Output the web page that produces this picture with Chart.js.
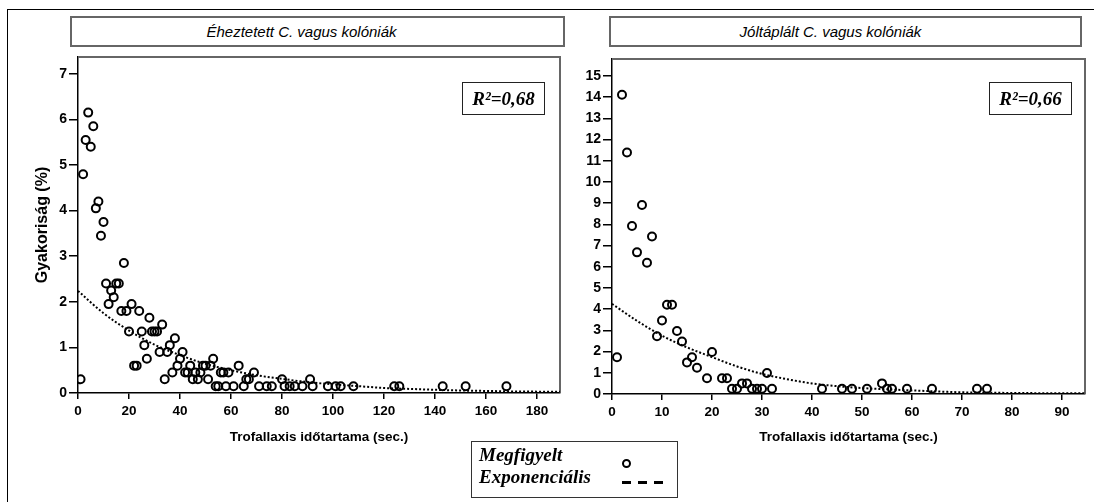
<!DOCTYPE html>
<html>
<head>
<meta charset="utf-8">
<script src="https://cdn.jsdelivr.net/npm/chart.js@4"></script>
<style>
  body { margin: 0; background: #fff; width: 1094px; height: 502px; overflow: hidden; position: relative; font-family: Arial, "Liberation Sans", sans-serif; }
  .frame { position: absolute; left: 7px; top: 9px; width: 1200px; height: 600px; border-left: 1px solid #000; border-top: 1px solid #000; }
  .panel { position: absolute; top: 0; height: 502px; }
  .titlebox { position: absolute; top: 16px; height: 27px; border: 2px solid #666; font: italic 15px Arial, "Liberation Sans", sans-serif; line-height: 27px; text-align: center; color: #000; }
  .r2 { position: absolute; top: 82px; width: 81px; height: 31px; border: 1px solid #222; font: bold italic 19px "Liberation Serif", "Times New Roman", serif; line-height: 31px; text-align: center; color: #000; }
  .legend { position: absolute; left: 471px; top: 441px; width: 205px; height: 55px; border: 1px solid #333; font: bold italic 19px "Liberation Serif", "Times New Roman", serif; color: #000; }
  .legend .row { position: absolute; left: 7px; height: 22px; line-height: 22px; }
  .dot { position: absolute; left: 150px; top: 17px; width: 5px; height: 5px; border: 2px solid #000; border-radius: 50%; }
  .dash { position: absolute; top: 39px; width: 9px; height: 3px; background: #000; }
</style>
</head>
<body>
<div class="frame"></div>

<div class="titlebox" style="left:70px; width:491px;"><span style="position:relative; left:-16px;">Éheztetett C. vagus kolóniák</span></div>
<div class="titlebox" style="left:609px; width:469px;"><span style="position:relative; left:-15px;">Jóltáplált C. vagus kolóniák</span></div>

<div class="panel" style="left:0; width:566px;"><canvas id="leftCanvas" width="566" height="502"></canvas></div>
<div class="panel" style="left:566px; width:528px;"><canvas id="rightCanvas" width="528" height="502"></canvas></div>

<div class="r2" style="left:462px;">R²=0,68</div>
<div class="r2" style="left:989px;">R²=0,66</div>

<div class="legend">
  <div class="row" style="top:2px;">Megfigyelt</div>
  <div class="row" style="top:24px;">Exponenciális</div>
  <div class="dot"></div>
  <div class="dash" style="left:150px;"></div>
  <div class="dash" style="left:166px;"></div>
  <div class="dash" style="left:182px;"></div>
</div>

<script>
// Éheztetett kolóniák - megfigyelt pontok
const leftX = [1, 2, 3, 4, 5, 6, 7, 8, 9, 10, 11, 12, 13, 14, 15, 16, 17, 18, 19, 20,
  21, 22, 23, 24, 25, 26, 27, 28, 29, 30, 31, 32, 33, 34, 35, 36, 37, 38, 39, 40,
  41, 42, 43, 44, 45, 46, 47, 48, 49, 50, 51, 52, 53, 54, 55, 56, 57, 58, 59, 61,
  63, 65, 66, 67, 69, 71, 74, 76, 80, 81, 83, 85, 88, 91, 92, 98, 101, 103, 108, 124,
  126, 143, 152, 168];
const leftY = [0.30, 4.80, 5.55, 6.15, 5.40, 5.85, 4.05, 4.20, 3.45, 3.75, 2.40, 1.95, 2.25, 2.10, 2.40, 2.40, 1.80, 2.85, 1.80, 1.35,
  1.95, 0.60, 0.60, 1.80, 1.35, 1.05, 0.75, 1.65, 1.35, 1.35, 1.35, 0.90, 1.50, 0.30, 0.90, 1.05, 0.45, 1.20, 0.60, 0.75,
  0.90, 0.45, 0.45, 0.60, 0.30, 0.45, 0.30, 0.45, 0.60, 0.60, 0.30, 0.60, 0.75, 0.15, 0.15, 0.45, 0.45, 0.15, 0.45, 0.15,
  0.60, 0.15, 0.30, 0.30, 0.45, 0.15, 0.15, 0.15, 0.30, 0.15, 0.15, 0.15, 0.15, 0.30, 0.15, 0.15, 0.15, 0.15, 0.15, 0.15,
  0.15, 0.15, 0.15, 0.15];
// Exponenciális görbe (leolvasott értékek)
const leftFitX = [0, 10, 20, 30, 40, 50, 60, 70, 80, 90, 100, 110, 120, 130, 140, 150, 160, 170, 180, 189];
const leftFitY = [2.24, 1.75, 1.37, 1.06, 0.83, 0.64, 0.50, 0.39, 0.31, 0.24, 0.19, 0.15, 0.11, 0.09, 0.07, 0.055, 0.045, 0.035, 0.03, 0.025];
const leftXTicks = [0, 20, 40, 60, 80, 100, 120, 140, 160, 180];
const leftYTicks = [0, 1, 2, 3, 4, 5, 6, 7];

// Jóltáplált kolóniák - megfigyelt pontok
const rightX = [1, 2, 3, 4, 5, 6, 7, 8, 9, 10, 11, 12, 13, 14, 15, 16, 17, 19, 20, 22,
  23, 24, 25, 26, 27, 28, 29, 30, 31, 32, 42, 46, 48, 51, 54, 55, 56, 59, 64, 73, 75];
const rightY = [1.73, 14.11, 11.39, 7.92, 6.68, 8.91, 6.19, 7.43, 2.72, 3.47, 4.21, 4.21, 2.97, 2.48, 1.49, 1.73, 1.24, 0.74, 1.98, 0.74,
  0.74, 0.25, 0.25, 0.50, 0.50, 0.25, 0.25, 0.25, 0.99, 0.25, 0.25, 0.25, 0.25, 0.25, 0.50, 0.25, 0.25, 0.25, 0.25, 0.25, 0.25];
const rightFitX = [0, 5, 10, 15, 20, 25, 30, 35, 40, 45, 50, 55, 60, 65, 70, 75, 80, 85, 90, 95];
const rightFitY = [4.25, 3.45, 2.75, 2.20, 1.74, 1.30, 0.95, 0.70, 0.50, 0.37, 0.28, 0.22, 0.17, 0.12, 0.08, 0.06, 0.05, 0.04, 0.035, 0.03];
const rightXTicks = [0, 10, 20, 30, 40, 50, 60, 70, 80, 90];
const rightYTicks = [0, 1, 2, 3, 4, 5, 6, 7, 8, 9, 10, 11, 12, 13, 14, 15];

const fontFamily = 'Arial, "Liberation Sans", sans-serif';

// rajzterület kerete (felső és jobb oldal)
const plotFrame = {
  id: 'plotFrame',
  beforeDatasetsDraw(chart) {
    const { ctx, chartArea: a } = chart;
    ctx.save();
    ctx.strokeStyle = '#666';
    ctx.lineWidth = 2;
    ctx.beginPath();
    ctx.moveTo(a.left, a.top);
    ctx.lineTo(a.right, a.top);
    ctx.lineTo(a.right, a.bottom);
    ctx.stroke();
    ctx.restore();
  }
};

function toPoints(xs, ys) {
  return xs.map((x, i) => ({ x: x, y: ys[i] }));
}

function drawPanel(canvasId, cfg) {
  const ctx = document.getElementById(canvasId).getContext('2d');
  return new Chart(ctx, {
    type: 'scatter',
    data: {
      datasets: [
        {
          label: 'Megfigyelt',
          data: toPoints(cfg.x, cfg.y),
          pointRadius: 4,
          pointBorderWidth: 2,
          pointBorderColor: '#000',
          pointBackgroundColor: 'rgba(0,0,0,0)',
          order: 1,
        },
        {
          label: 'Exponenciális',
          data: toPoints(cfg.fitX, cfg.fitY),
          showLine: true,
          pointRadius: 0,
          borderColor: '#000',
          borderWidth: 2,
          borderDash: [2, 2],
          cubicInterpolationMode: 'monotone',
          order: 2,
        },
      ],
    },
    options: {
      responsive: false,
      animation: false,
      events: [],
      layout: { padding: cfg.padding },
      plugins: { legend: { display: false }, tooltip: { enabled: false } },
      scales: {
        x: {
          type: 'linear',
          min: 0,
          max: cfg.xMax,
          afterBuildTicks: s => { s.ticks = cfg.xTicks.map(v => ({ value: v })); },
          afterFit: s => { s.height = 60; },
          ticks: { color: '#000', padding: 4, font: { family: fontFamily, size: 13.5, weight: 'bold' } },
          grid: { drawOnChartArea: false, drawTicks: true, tickLength: 6, color: '#000', lineWidth: 1.5 },
          border: { color: '#000', width: 1.5 },
          title: { display: true, text: 'Trofallaxis időtartama (sec.)', color: '#000', padding: { top: 0, bottom: cfg.xTitlePad }, font: { family: fontFamily, size: 13.5, weight: 'bold' } },
        },
        y: {
          type: 'linear',
          min: 0,
          max: cfg.yMax,
          afterBuildTicks: s => { s.ticks = cfg.yTicks.map(v => ({ value: v })); },
          afterFit: s => { s.width = cfg.yWidth; },
          ticks: { color: '#000', padding: 2, font: cfg.yTickFont },
          grid: { drawOnChartArea: false, drawTicks: true, tickLength: 9, color: '#000', lineWidth: 1.5 },
          border: { color: '#000', width: 1.5 },
          title: cfg.yTitle,
        },
      },
    },
    plugins: [plotFrame],
  });
}

drawPanel('leftCanvas', {
  x: leftX, y: leftY, fitX: leftFitX, fitY: leftFitY,
  xMax: 189, xTicks: leftXTicks, yMax: 7.37, yTicks: leftYTicks, yWidth: 78, xTitlePad: 8,
  padding: { left: 0, top: 57, right: 2, bottom: 49 },
  yTickFont: { family: fontFamily, size: 14, weight: 'bold' },
  yTitle: { display: true, text: 'Gyakoriság (%)', color: '#000', padding: { top: 33, bottom: 0 }, font: { family: fontFamily, size: 16, weight: 'bold' } },
});

drawPanel('rightCanvas', {
  x: rightX, y: rightY, fitX: rightFitX, fitY: rightFitY,
  xMax: 94.6, xTicks: rightXTicks, yMax: 15.8, yTicks: rightYTicks, yWidth: 46, xTitlePad: 9,
  padding: { left: 0, top: 59, right: 9, bottom: 48 },
  yTickFont: { family: fontFamily, size: 14, weight: 'bold' },
  yTitle: { display: false },
});
</script>
</body>
</html>
